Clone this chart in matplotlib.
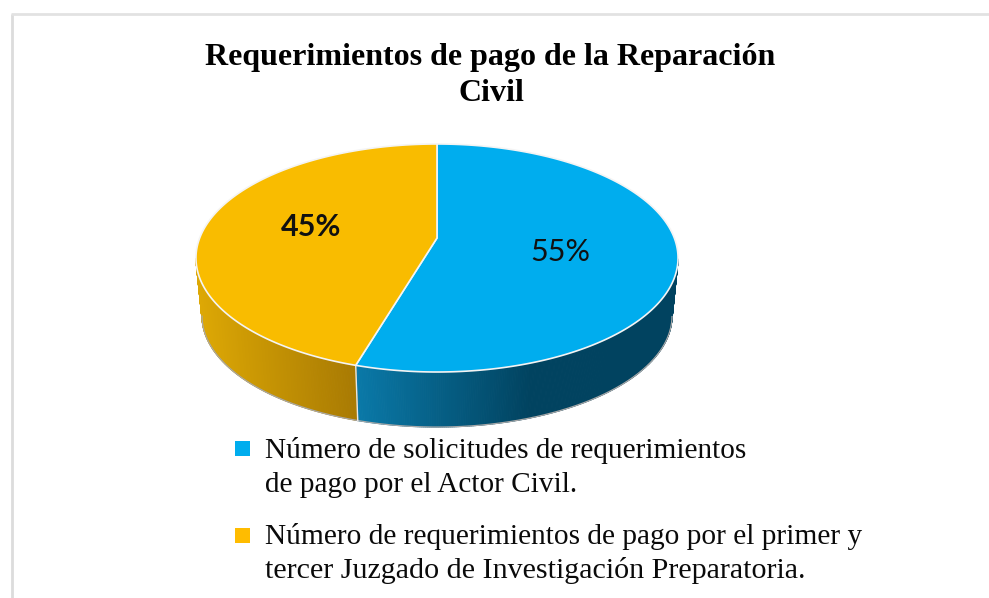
import numpy as np
import matplotlib
matplotlib.use("Agg")
import matplotlib.pyplot as plt
from matplotlib.colors import LinearSegmentedColormap
from matplotlib.patches import Polygon, Rectangle

title_lines = ["Requerimientos de pago de la Reparación", "Civil"]
labels = ["Número de solicitudes de requerimientos\nde pago por el Actor Civil.",
          "Número de requerimientos de pago por el primer y\ntercer Juzgado de Investigación Preparatoria."]
values = [54.6, 45.4]
value_labels = ["55%", "45%"]
colors = ["#00ADEE", "#F9BC00"]
wall_stops = [["#0A79A8", "#014360"], ["#DDA805", "#A87A03"]]

W, H = 989, 598
fig = plt.figure(figsize=(W / 100, H / 100), dpi=100, facecolor="white")
ax = fig.add_axes([0, 0, 1, 1])
ax.set_xlim(0, W)
ax.set_ylim(H, 0)
ax.axis("off")

CX, CY, A, B, K = 437, 238, 237.3, 110.5, 0.1754
CY_BOTTOM, SCALE_BOTTOM = 296.4, 0.975


def project(theta, cy=CY, s=1.0):
    u, v = np.sin(theta), np.cos(theta)
    w = 1 + K * v
    return CX + s * A * u / w, cy - s * B * v / w


fractions = np.array(values) / sum(values)
edges = np.concatenate([[0], np.cumsum(fractions)]) * 2 * np.pi

# side wall: strips from the silhouette round the front
for i in range(len(values)):
    t = np.linspace(edges[i], edges[i + 1], 500)
    t = t[np.cos(t) < -K]
    x, y = project(t)
    xb, yb = project(t, CY_BOTTOM, SCALE_BOTTOM)
    cmap = LinearSegmentedColormap.from_list("w", wall_stops[i])
    lo, hi = x.min(), x.max()
    span = 175.0 if i == 0 else hi - lo
    for j in range(len(t) - 1):
        pos = (x[j] + x[j + 1]) / 2
        frac = float(np.clip((pos - lo) / span, 0.0, 1.0))
        ax.add_patch(Polygon([(x[j], y[j]), (x[j + 1], y[j + 1]), (xb[j + 1], yb[j + 1]), (xb[j], yb[j])],
                             closed=True, fc=cmap(frac), ec=cmap(frac), lw=0.8, zorder=2))
    ax.plot(xb, yb, color="#A8A8A8", lw=0.9, zorder=3)

# boundary line on the wall
xa, ya = project(np.array([edges[1]]))
xc, yc = project(np.array([edges[1]]), CY_BOTTOM, SCALE_BOTTOM)
ax.plot([xa[0], xc[0]], [ya[0], yc[0]], color="#E6E6E6", lw=1, zorder=3)

# top faces
for i in range(len(values)):
    t = np.linspace(edges[i], edges[i + 1], 300)
    x, y = project(t)
    pts = np.column_stack([np.r_[CX, x], np.r_[CY, y]])
    ax.add_patch(Polygon(pts, closed=True, fc=colors[i], ec="#F4F4F4", lw=1.2, zorder=4))

ax.text(560, 252, value_labels[0], fontsize=22, family="Lato", ha="center", va="center", color="#111111", zorder=5)
ax.text(311, 227, value_labels[1], fontsize=22, family="Lato", fontweight="bold", ha="center", va="center", color="#111111", zorder=5)

# frame
ax.plot([11.5, 11.5], [H, 13.5], color="#DCDCDC", lw=2, zorder=1, solid_capstyle="butt")
ax.plot([10.5, W], [13.5, 13.5], color="#E2E2E2", lw=2, zorder=1, solid_capstyle="butt")

# title
ax.text(490.5, 65, title_lines[0], fontsize=23, family="Liberation Serif", fontweight="bold", ha="center", va="baseline", color="black")
ax.text(491, 101, title_lines[1], fontsize=23, family="Liberation Serif", fontweight="bold", ha="center", va="baseline", color="black")

# legend
ax.add_patch(Rectangle((235, 441), 15, 15, fc="#00ADEE", ec="none"))
ax.add_patch(Rectangle((235, 528), 15, 15, fc="#FFBC00", ec="none"))
line_sizes = iter([21.1, 21.1, 21.2, 21.6])
for yy, lab in zip((458, 544), labels):
    l1, l2 = lab.split("\n")
    ax.text(265, yy, l1, fontsize=next(line_sizes), family="Liberation Serif", ha="left", va="baseline", color="#0A0A0A")
    ax.text(265, yy + 34, l2, fontsize=next(line_sizes), family="Liberation Serif", ha="left", va="baseline", color="#0A0A0A")

fig.savefig("out.png", dpi=100)
